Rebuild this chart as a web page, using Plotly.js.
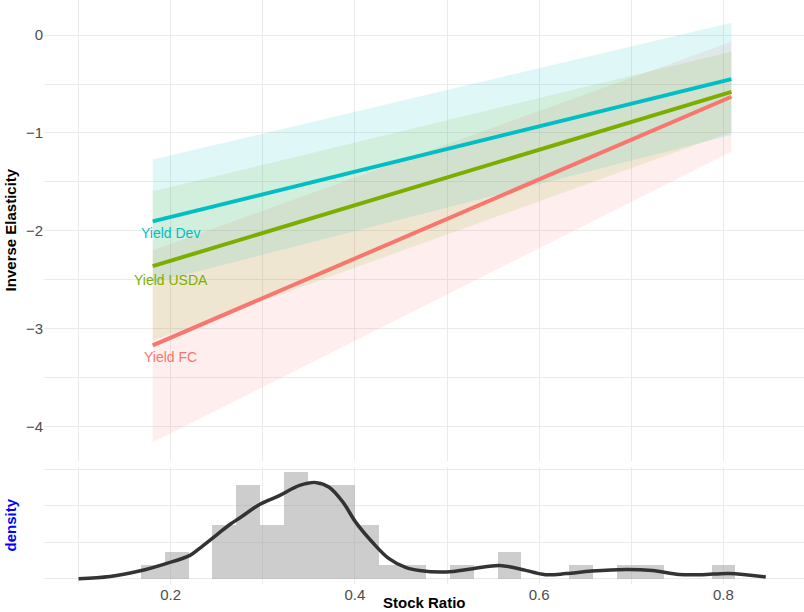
<!DOCTYPE html>
<html><head><meta charset="utf-8">
<script src="https://cdn.plot.ly/plotly-3.0.1.min.js"></script>
<style>html,body{margin:0;padding:0;background:#fff}#chart{width:804px;height:612px}</style>
</head><body><div id="chart"></div>
<script>
// ---- fitted lines (Inverse Elasticity vs Stock Ratio), read at the two ends ----
const stockRatioEnds = [0.1805, 0.8087];
const seriesNames = ['Yield FC', 'Yield USDA', 'Yield Dev'];
const fcFit   = [-3.17, -0.63];
const fcLo    = [-4.16, -1.19];
const fcHi    = [-2.20, -0.068];
const usdaFit = [-2.36, -0.58];
const usdaLo  = [-3.12, -0.99];
const usdaHi  = [-1.596, -0.17];
const devFit  = [-1.903, -0.45];
const devLo   = [-2.53, -1.02];
const devHi   = [-1.272, 0.126];

// ---- histogram of Stock Ratio ----
const binCenters = [0.1809, 0.2067, 0.2325, 0.2583, 0.2841, 0.3099, 0.3357, 0.3615, 0.3873, 0.4131,
                    0.4389, 0.4647, 0.4905, 0.5163, 0.5421, 0.5679, 0.5937, 0.6195, 0.6453, 0.6711,
                    0.6969, 0.7227, 0.7485, 0.7743, 0.8001];
const binCounts  = [1, 2, 0, 4, 7, 4, 8, 7, 7, 4, 1, 1, 0, 1, 0, 2, 0, 0, 1, 0, 1, 1, 0, 0, 1];
const binWidth = 0.0258;

// ---- kernel density curve ----
const densityX = [0.100, 0.134, 0.166, 0.195, 0.221, 0.231, 0.250, 0.265, 0.276, 0.2965,
                  0.318, 0.340, 0.358, 0.372, 0.387, 0.401, 0.419, 0.437, 0.455, 0.470,
                  0.499, 0.528, 0.557, 0.578, 0.607, 0.629, 0.657, 0.694, 0.723, 0.752,
                  0.777, 0.806, 0.846];
const densityY = [0, 0.12, 0.42, 0.83, 1.28, 1.65, 2.41, 3.00, 3.37, 4.07,
                  4.56, 5.12, 5.27, 5.02, 4.20, 3.09, 2.00, 1.10, 0.62, 0.45,
                  0.37, 0.55, 0.73, 0.55, 0.22, 0.28, 0.42, 0.51, 0.45, 0.23,
                  0.22, 0.29, 0.09];

const colors = {'Yield FC': '#F8766D', 'Yield USDA': '#7CAE00', 'Yield Dev': '#00BFC4'};
const fills  = {'Yield FC': 'rgba(248,118,109,0.12)', 'Yield USDA': 'rgba(124,174,0,0.12)', 'Yield Dev': 'rgba(0,191,196,0.12)'};
const fits = {'Yield FC': [fcFit, fcLo, fcHi], 'Yield USDA': [usdaFit, usdaLo, usdaHi], 'Yield Dev': [devFit, devLo, devHi]};
const labelShift = {'Yield FC': -12, 'Yield USDA': -14, 'Yield Dev': -12};

const FONT = 'Liberation Sans, Arial, sans-serif';
const traces = [];
seriesNames.forEach(n => {
  const [f, lo, hi] = fits[n];
  traces.push({
    type: 'scatter', mode: 'lines', xaxis: 'x', yaxis: 'y',
    x: [stockRatioEnds[0], stockRatioEnds[1], stockRatioEnds[1], stockRatioEnds[0]],
    y: [lo[0], lo[1], hi[1], hi[0]],
    fill: 'toself', fillcolor: fills[n], line: {width: 0}, hoverinfo: 'skip', showlegend: false
  });
});
seriesNames.forEach(n => {
  traces.push({
    type: 'scatter', mode: 'lines', xaxis: 'x', yaxis: 'y', name: n,
    x: stockRatioEnds, y: fits[n][0],
    line: {color: colors[n], width: 4}, showlegend: false
  });
});
const nObs = binCounts.reduce((a, b) => a + b, 0);
traces.push({
  type: 'bar', xaxis: 'x2', yaxis: 'y2',
  x: binCenters, y: binCounts.map(c => c / (nObs * binWidth)), width: binWidth,
  marker: {color: 'rgba(150,150,150,0.48)', line: {width: 0}}, showlegend: false
});
traces.push({
  type: 'scatter', mode: 'lines', xaxis: 'x2', yaxis: 'y2',
  x: densityX, y: densityY, line: {color: '#333333', width: 3.5, shape: 'spline', smoothing: 1},
  showlegend: false
});

const annotations = seriesNames.map(n => ({
  x: 0.2, y: fits[n][0][0], xref: 'x', yref: 'y', text: n, showarrow: false,
  xanchor: 'center', yanchor: 'middle', yshift: labelShift[n],
  font: {family: FONT, size: 14, color: colors[n]}
}));
annotations.push({
  text: '<b>Inverse Elasticity</b>', textangle: -90, showarrow: false,
  xref: 'paper', x: 0, xanchor: 'center', xshift: -34,
  yref: 'y domain', y: 0.5, yanchor: 'middle',
  font: {family: FONT, size: 15, color: '#000000'}
});
annotations.push({
  text: '<b>density</b>', textangle: -90, showarrow: false,
  xref: 'paper', x: 0, xanchor: 'center', xshift: -34,
  yref: 'y2 domain', y: 0.5, yanchor: 'middle',
  font: {family: FONT, size: 15, color: '#0000FF'}
});
annotations.push({
  text: '<b>Stock Ratio</b>', showarrow: false,
  xref: 'paper', x: 0.5, xanchor: 'center',
  yref: 'paper', y: 0, yanchor: 'top', yshift: -9, borderpad: 0,
  font: {family: FONT, size: 15, color: '#000000'}
});

const grid = '#EBEBEB';
const xCommon = {
  range: [0.0625, 0.8875], tick0: 0, dtick: 0.2, showgrid: true, gridcolor: grid, gridwidth: 1,
  zeroline: false, showline: false, ticks: '',
  minor: {dtick: 0.1, tick0: 0, showgrid: true, gridcolor: grid, gridwidth: 1}
};
const layout = {
  width: 804, height: 612,
  margin: {l: 44, r: 0, t: 0, b: 28.4},
  paper_bgcolor: '#ffffff', plot_bgcolor: '#ffffff',
  font: {family: FONT, size: 15, color: '#4D4D4D'},
  showlegend: false, bargap: 0,
  xaxis: Object.assign({}, xCommon, {anchor: 'y', showticklabels: false}),
  xaxis2: Object.assign({}, xCommon, {anchor: 'y2', showticklabels: true,
    tickfont: {family: FONT, size: 15, color: '#4D4D4D'}}),
  yaxis: {
    domain: [0.211, 1], range: [-4.348, 0.358], dtick: 1, tick0: 0,
    showgrid: true, gridcolor: grid, gridwidth: 1, zeroline: false, ticks: '',
    minor: {dtick: 0.5, tick0: 0, showgrid: true, gridcolor: grid, gridwidth: 1},
    tickfont: {family: FONT, size: 15, color: '#4D4D4D'}
  },
  yaxis2: {
    domain: [0, 0.2007], range: [-0.29, 6.14], tickvals: [0, 2, 4, 6],
    showgrid: true, gridcolor: grid, gridwidth: 1, zeroline: false, ticks: '',
    showticklabels: false
  },
  annotations: annotations
};
Plotly.newPlot('chart', traces, layout, {displayModeBar: false, staticPlot: true});
</script>
</body></html>
